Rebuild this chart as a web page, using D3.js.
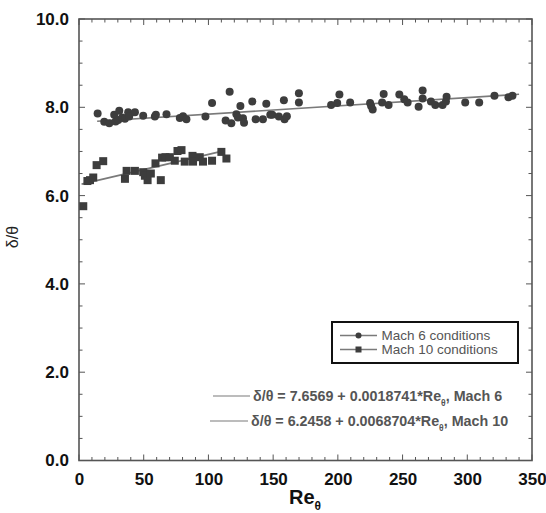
<!DOCTYPE html>
<html><head><meta charset="utf-8">
<script src="https://cdn.jsdelivr.net/npm/d3@7"></script>
<style>body{margin:0;background:#fff}svg{display:block}</style>
</head><body>
<svg id="c" width="546" height="513"></svg>
<script>
// Data
const mach6Re = [14.4,19.5,23.4,27.2,28.3,30.3,31.1,33.4,35.5,38.0,38.8,43.2,49.6,58.6,59.4,67.6,77.9,80.4,83.0,97.7,102.8,113.3,116.4,117.7,121.6,122.8,124.7,126.7,127.5,133.9,136.5,142.1,144.7,147.8,149.3,154.4,158.3,158.8,160.6,169.9,169.9,194.8,199.5,201.2,209.5,224.9,225.7,226.9,234.2,235.4,239.2,247.5,251.3,253.9,262.4,265.5,265.5,271.9,275.3,280.9,283.5,284.0,298.4,309.2,321.0,331.8,334.9];
const mach6Val = [7.86,7.67,7.64,7.83,7.68,7.71,7.92,7.77,7.74,7.89,7.79,7.89,7.81,7.79,7.83,7.84,7.76,7.80,7.73,7.79,8.10,7.70,8.35,7.64,7.84,7.77,8.03,7.75,7.65,8.13,7.73,7.73,8.08,7.83,7.83,7.79,8.16,7.73,7.80,8.32,8.11,8.05,8.10,8.29,8.11,8.10,8.03,7.95,8.11,8.30,8.05,8.29,8.18,8.11,8.01,8.38,8.20,8.13,8.05,8.05,8.13,8.24,8.11,8.11,8.26,8.23,8.26];
const mach10Re = [3.3,6.5,8.5,11.0,13.6,18.7,35.5,36.8,43.2,49.6,50.9,53.0,55.5,59.1,63.2,64.2,66.8,70.2,74.0,76.1,79.2,81.7,87.7,88.1,93.3,95.8,102.8,110.0,113.9];
const mach10Val = [5.76,6.33,6.35,6.41,6.69,6.78,6.38,6.56,6.56,6.53,6.45,6.35,6.50,6.73,6.35,6.86,6.87,6.87,6.79,7.01,7.03,6.77,6.90,6.77,6.87,6.77,6.79,6.99,6.84];
const fit6 = {a:7.6569, b:0.0018741, from:14, to:340};
const fit10 = {a:6.2458, b:0.0068704, from:2, to:110};
const xTicks = [0,50,100,150,200,250,300,350];
const yTicks = [0,2,4,6,8,10];
const legendLabels = ["Mach 6 conditions","Mach 10 conditions"];

const svg = d3.select("#c");
const m = {l:79, r:14, t:19, b:52.5};
const W = 546, H = 513;
const x = d3.scaleLinear().domain([0,350]).range([m.l, W-m.r]);
const y = d3.scaleLinear().domain([0,10]).range([H-m.b, m.t]);
const axisCol = "#555";
const markCol = "#3d3d3d";
const lineCol = "#7a7a7a";
const FF = "Liberation Sans, Arial, sans-serif";

// ticks (inward on all sides)
const g = svg.append("g");
const xMinor = d3.range(0,351,10), yMinor = d3.range(0,10.01,0.5);
xMinor.forEach(v=>{
  const L = v%50===0 ? 6 : 3.5;
  g.append("line").attr("x1",x(v)).attr("x2",x(v)).attr("y1",y(0)).attr("y2",y(0)-L).attr("stroke",axisCol).attr("stroke-width",1);
  g.append("line").attr("x1",x(v)).attr("x2",x(v)).attr("y1",y(10)).attr("y2",y(10)+L).attr("stroke",axisCol).attr("stroke-width",1);
});
yMinor.forEach(v=>{
  const L = Math.abs(v%2)<1e-6 ? 6 : 3.5;
  g.append("line").attr("x1",x(0)).attr("x2",x(0)+L).attr("y1",y(v)).attr("y2",y(v)).attr("stroke",axisCol).attr("stroke-width",1);
  g.append("line").attr("x1",x(350)).attr("x2",x(350)-L).attr("y1",y(v)).attr("y2",y(v)).attr("stroke",axisCol).attr("stroke-width",1);
});
svg.append("rect").attr("x",x(0)).attr("y",y(10)).attr("width",x(350)-x(0)).attr("height",y(0)-y(10))
  .attr("fill","none").attr("stroke",axisCol).attr("stroke-width",1.6);

// axes labels via d3 axes (labels only)
const xAxis = svg.append("g").attr("transform",`translate(0,${y(0)})`)
  .call(d3.axisBottom(x).tickValues(xTicks).tickFormat(d3.format("d")).tickSize(0).tickPadding(12));
const yAxis = svg.append("g").attr("transform",`translate(${x(0)},0)`)
  .call(d3.axisLeft(y).tickValues(yTicks).tickFormat(d3.format(".1f")).tickSize(0).tickPadding(10));
[xAxis,yAxis].forEach(a=>{
  a.select(".domain").remove();
  a.selectAll("text").attr("font-family",FF).attr("font-weight","bold")
   .attr("font-size",17).attr("fill","#111");
});

// axis titles
const xt = svg.append("text").attr("x",305).attr("y",504).attr("text-anchor","middle")
  .attr("font-family",FF).attr("font-weight","bold").attr("font-size",20).attr("fill","#111");
xt.append("tspan").text("Re");
xt.append("tspan").attr("font-size",12).attr("dy",6).text("θ");
svg.append("text").attr("transform","translate(18,237) rotate(-90)").attr("text-anchor","middle")
  .attr("font-family",FF).attr("font-size",16).attr("fill","#222").text("δ/θ");

// fit lines
[fit6,fit10].forEach(f=>{
  svg.append("line").attr("x1",x(f.from)).attr("y1",y(f.a+f.b*f.from)).attr("x2",x(f.to)).attr("y2",y(f.a+f.b*f.to))
    .attr("stroke",lineCol).attr("stroke-width",1.6);
});

// markers
svg.append("g").selectAll("circle").data(mach6Re.map((r,i)=>[r,mach6Val[i]])).join("circle")
  .attr("cx",d=>x(d[0])).attr("cy",d=>y(d[1])).attr("r",4).attr("fill",markCol);
svg.append("g").selectAll("rect").data(mach10Re.map((r,i)=>[r,mach10Val[i]])).join("rect")
  .attr("x",d=>x(d[0])-4).attr("y",d=>y(d[1])-4).attr("width",8).attr("height",8).attr("fill",markCol);

// legend
const lg = svg.append("g");
lg.append("rect").attr("x",332).attr("y",322).attr("width",186).attr("height",41)
  .attr("fill","#fff").attr("stroke","#111").attr("stroke-width",2);
legendLabels.forEach((t,i)=>{
  const yy = 335.5 + i*14;
  lg.append("line").attr("x1",340).attr("x2",377).attr("y1",yy).attr("y2",yy).attr("stroke",lineCol).attr("stroke-width",1.4);
  if(i===0) lg.append("circle").attr("cx",358.5).attr("cy",yy).attr("r",3).attr("fill",markCol);
  else lg.append("rect").attr("x",355.5).attr("y",yy-3).attr("width",6).attr("height",6).attr("fill",markCol);
  lg.append("text").attr("x",381.5).attr("y",yy+4.5).attr("font-family",FF)
    .attr("font-size",13.5).attr("fill","#555").text(t);
});

// equations
const eqs = [{x1:213,x2:250,tx:253,y:396,a:"7.6569",b:"0.0018741",m:"6"},
             {x1:210,x2:248,tx:251,y:421,a:"6.2458",b:"0.0068704",m:"10"}];
eqs.forEach(e=>{
  svg.append("line").attr("x1",e.x1).attr("x2",e.x2).attr("y1",e.y).attr("y2",e.y).attr("stroke",lineCol).attr("stroke-width",1.2);
  const t = svg.append("text").attr("x",e.tx).attr("y",e.y+5).attr("font-family",FF)
    .attr("font-weight","bold").attr("font-size",14.3).attr("fill","#555");
  t.append("tspan").text(`δ/θ = ${e.a} + ${e.b}*Re`);
  t.append("tspan").attr("font-size",8.5).attr("dy",4.5).text("θ");
  t.append("tspan").attr("dy",-4.5).text(`, Mach ${e.m}`);
});
</script>
</body></html>
